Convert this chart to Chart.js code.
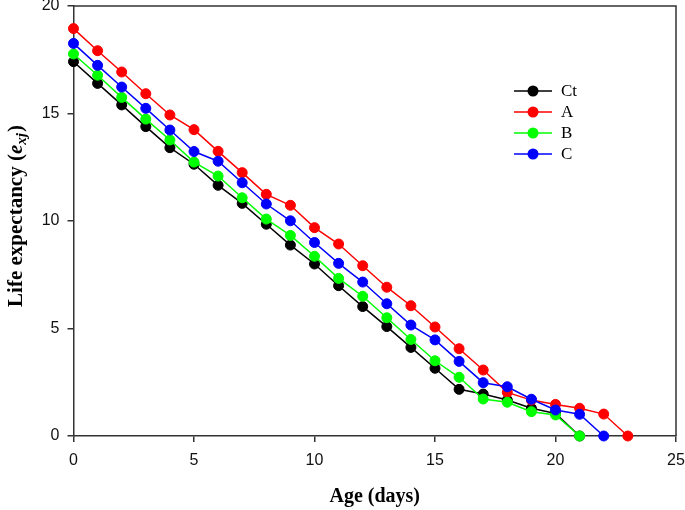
<!DOCTYPE html>
<html>
<head>
<meta charset="utf-8">
<script src="https://cdn.jsdelivr.net/npm/chart.js@4.4.1/dist/chart.umd.min.js"></script>
<style>
  html, body { margin: 0; padding: 0; background: #fff; }
  #wrap { width: 685px; height: 510px; position: relative; }
</style>
</head>
<body>
<div id="wrap"><canvas id="c" width="685" height="510"></canvas></div>
<script>
// ---- data ----
const days = [0,1,2,3,4,5,6,7,8,9,10,11,12,13,14,15,16,17,18,19,20,21,22,23];
const seriesNames = ["Ct", "A", "B", "C"];
const ctValues = [17.41,16.40,15.40,14.39,13.41,12.64,11.66,10.82,9.85,8.88,8.00,6.99,6.02,5.09,4.12,3.15,2.17,1.95,1.67,1.29,1.05,0];
const aValues  = [18.95,17.92,16.93,15.92,14.93,14.25,13.24,12.25,11.24,10.73,9.69,8.93,7.92,6.92,6.06,5.07,4.06,3.07,2.03,1.67,1.47,1.29,1.02,0];
const bValues  = [17.77,16.78,15.75,14.74,13.77,12.74,12.09,11.08,10.09,9.33,8.36,7.33,6.50,5.50,4.49,3.50,2.73,1.72,1.57,1.13,0.98,0];
const cValues  = [18.26,17.24,16.23,15.24,14.23,13.23,12.78,11.78,10.79,10.01,9.00,8.03,7.16,6.15,5.16,4.47,3.47,2.48,2.29,1.71,1.21,1.01,0];
const xTicks = [0,5,10,15,20,25];
const yTicks = [0,5,10,15,20];
const xTitle = "Age (days)";
const yTitleMain = "Life expectancy (";
const yTitleVar = "e";
const yTitleSub = "xj";
const yTitleEnd = ")";

const colors = ["#000000", "#ff0000", "#00ff00", "#0000ff"];
const allValues = [ctValues, aValues, bValues, cValues];

function toPoints(vals) { return vals.map((v, i) => ({ x: days[i], y: v })); }

const datasets = allValues.map((vals, i) => ({
  label: seriesNames[i],
  data: toPoints(vals),
  borderColor: colors[i],
  backgroundColor: colors[i],
  pointBackgroundColor: colors[i],
  pointBorderColor: colors[i],
  borderWidth: 1.5,
  pointRadius: 5,
  pointBorderWidth: 1,
  pointHoverRadius: 5,
  clip: false,
  tension: 0,
  order: 4 - i
}));

const AXIS = "#333333";

const decor = {
  id: "decor",
  afterDraw(chart) {
    const ctx = chart.ctx;
    const a = chart.chartArea;
    ctx.save();
    // top and right frame lines
    ctx.strokeStyle = AXIS;
    ctx.lineWidth = 1.5;
    ctx.beginPath();
    ctx.moveTo(a.left, a.top);
    ctx.lineTo(a.right, a.top);
    ctx.lineTo(a.right, a.bottom);
    ctx.stroke();

    // x title
    ctx.fillStyle = "#000";
    ctx.font = "bold 20px 'Liberation Serif'";
    ctx.textAlign = "center";
    ctx.textBaseline = "middle";
    ctx.fillText(xTitle, (a.left + a.right) / 2, 497);

    // y title with subscript
    const fMain = "bold 21px 'Liberation Serif'";
    const fVar = "italic bold 21px 'Liberation Serif'";
    const fSub = "italic bold 15px 'Liberation Serif'";
    ctx.textAlign = "left";
    ctx.textBaseline = "alphabetic";
    ctx.font = fMain; const w1 = ctx.measureText(yTitleMain).width;
    ctx.font = fVar;  const w2 = ctx.measureText(yTitleVar).width;
    ctx.font = fSub;  const w3 = ctx.measureText(yTitleSub).width;
    ctx.font = fMain; const w4 = ctx.measureText(yTitleEnd).width;
    const total = w1 + w2 + w3 + 1 + w4;
    ctx.translate(22, 216);
    ctx.rotate(-Math.PI / 2);
    let x = -total / 2;
    ctx.font = fMain; ctx.fillText(yTitleMain, x, 0); x += w1;
    ctx.font = fVar;  ctx.fillText(yTitleVar, x, 0); x += w2;
    ctx.font = fSub;  ctx.fillText(yTitleSub, x, 4); x += w3 + 1;
    ctx.font = fMain; ctx.fillText(yTitleEnd, x, 0);
    ctx.restore();

    // legend
    ctx.save();
    ctx.font = "17px 'Liberation Serif'";
    ctx.textBaseline = "middle";
    ctx.textAlign = "left";
    seriesNames.forEach((name, i) => {
      const y = 91 + i * 21;
      ctx.strokeStyle = colors[i];
      ctx.lineWidth = 1.5;
      ctx.beginPath(); ctx.moveTo(514, y); ctx.lineTo(552, y); ctx.stroke();
      ctx.fillStyle = colors[i];
      ctx.beginPath(); ctx.arc(533, y, 5.5, 0, Math.PI * 2); ctx.fill();
      ctx.fillStyle = "#000";
      ctx.fillText(name, 561, y + 1);
    });
    ctx.restore();
  }
};

new Chart(document.getElementById("c"), {
  type: "line",
  data: { datasets },
  options: {
    responsive: false,
    animation: false,
    events: [],
    layout: { padding: { top: 5.5, right: 9, left: 0, bottom: 0 } },
    plugins: { legend: { display: false }, tooltip: { enabled: false } },
    scales: {
      x: {
        type: "linear",
        min: 0, max: 25,
        afterBuildTicks(s) { s.ticks = xTicks.map(v => ({ value: v })); },
        afterFit(s) { s.height = 74; s.paddingLeft = 0; s.paddingRight = 0; },
        ticks: { font: { family: "'Liberation Sans'", size: 16 }, color: "#111", padding: 9, maxRotation: 0 },
        grid: { drawOnChartArea: false, drawTicks: true, tickLength: 6, color: AXIS, lineWidth: 1.5 },
        border: { display: true, color: AXIS, width: 1.5 }
      },
      y: {
        type: "linear",
        min: 0, max: 20,
        afterBuildTicks(s) { s.ticks = yTicks.map(v => ({ value: v })); },
        afterFit(s) { s.width = 73.5; s.paddingTop = 0; s.paddingBottom = 0; },
        ticks: { font: { family: "'Liberation Sans'", size: 16 }, color: "#111", padding: 8 },
        grid: { drawOnChartArea: false, drawTicks: true, tickLength: 6, color: AXIS, lineWidth: 1.5 },
        border: { display: true, color: AXIS, width: 1.5 }
      }
    }
  },
  plugins: [decor]
});
</script>
</body>
</html>
